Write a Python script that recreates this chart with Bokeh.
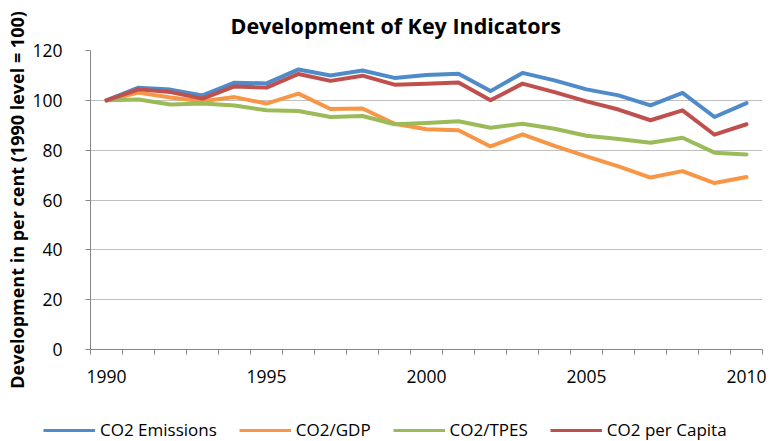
from bokeh.plotting import figure
from bokeh.models import Legend, LegendItem, FixedTicker, Range1d, Title
from bokeh.layouts import column, row
from bokeh.embed import file_html
from bokeh.resources import INLINE

years = list(range(1990, 2011))
co2_emissions = [100, 105.1, 104.3, 102.0, 107.1, 106.8, 112.4, 110.0, 112.0, 109.0, 110.2,
                 110.7, 103.7, 111.0, 108.0, 104.4, 102.0, 98.0, 103.0, 93.3, 98.9]
co2_gdp = [100, 103.1, 101.1, 99.6, 101.3, 98.7, 102.7, 96.5, 96.7, 90.6, 88.4,
           88.0, 81.5, 86.3, 81.7, 77.5, 73.5, 69.0, 71.6, 66.8, 69.2]
co2_tpes = [100, 100.3, 98.3, 98.7, 97.9, 96.0, 95.7, 93.3, 93.7, 90.4, 90.9,
            91.6, 89.0, 90.6, 88.6, 85.8, 84.5, 83.0, 85.0, 79.0, 78.3]
co2_capita = [100, 104.4, 103.3, 100.7, 105.6, 105.1, 110.6, 107.8, 109.9, 106.3, 106.7,
              107.2, 100.0, 106.7, 103.3, 99.6, 96.3, 92.0, 96.0, 86.2, 90.4]
series_names = ["CO2 Emissions", "CO2/GDP", "CO2/TPES", "CO2 per Capita"]
series_colors = ["#4F8BC9", "#F79646", "#9BBB59", "#C0504D"]
y_ticks = [0, 20, 40, 60, 80, 100, 120]
x_label_ticks = [1990, 1995, 2000, 2005, 2010]

FONT = "Open Sans"
W = 770
all_series = [co2_emissions, co2_gdp, co2_tpes, co2_capita]

p = figure(width=W, height=400, output_backend="svg", toolbar_location=None,
           x_range=Range1d(years[0] - 0.5, years[-1] + 0.5), y_range=Range1d(0, 120),
           min_border_left=90, min_border_right=W - 762, min_border_top=50, min_border_bottom=51)
p.outline_line_color = None
p.background_fill_color = "white"
p.border_fill_color = "white"

p.add_layout(Title(text="Development of Key Indicators", text_font=FONT, text_font_size="21.5px",
                   text_font_style="bold", text_color="#000000", align="left", offset=140,
                   vertical_align="top", standoff=17), "above")

for vals, col in zip(all_series, series_colors):
    p.line(years, vals, line_color=col, line_width=4, line_join="round", line_cap="round")

# y axis
p.yaxis.ticker = FixedTicker(ticks=y_ticks)
p.yaxis.axis_line_color = "#868686"
p.yaxis.major_tick_line_color = "#868686"
p.yaxis.major_tick_out = 5
p.yaxis.major_tick_in = 0
p.yaxis.minor_tick_line_color = None
p.yaxis.major_label_text_font = FONT
p.yaxis.major_label_text_font_size = "17.5px"
p.yaxis.major_label_text_color = "#000000"
p.yaxis.major_label_standoff = 23
p.yaxis.axis_label = "Development in per cent (1990 level = 100)"
p.yaxis.axis_label_text_font = FONT
p.yaxis.axis_label_text_font_size = "18px"
p.yaxis.axis_label_text_font_style = "bold"
p.yaxis.axis_label_text_color = "#000000"
p.yaxis.axis_label_standoff = 0

# x axis
p.xaxis.ticker = FixedTicker(ticks=x_label_ticks, minor_ticks=[y - 0.5 for y in years] + [years[-1] + 0.5])
p.xaxis.axis_line_color = "#868686"
p.xaxis.major_tick_line_color = None
p.xaxis.minor_tick_line_color = "#868686"
p.xaxis.minor_tick_out = 5
p.xaxis.minor_tick_in = 0
p.xaxis.major_label_text_font = FONT
p.xaxis.major_label_text_font_size = "17.5px"
p.xaxis.major_label_text_color = "#000000"
p.xaxis.major_label_standoff = 14

p.xgrid.grid_line_color = None
p.ygrid.ticker = FixedTicker(ticks=y_ticks)
p.ygrid.grid_line_color = "#BFBFBF"
p.ygrid.grid_line_width = 1

# legend strip below the chart (its lines lie outside its visible range; only the legend shows)
lg = figure(width=W, height=41, output_backend="svg", toolbar_location=None,
            x_range=Range1d(0, 1), y_range=Range1d(0, 1),
            min_border_left=0, min_border_right=0, min_border_top=0, min_border_bottom=0,
            x_axis_location=None, y_axis_location=None)
lg.outline_line_color = None
lg.grid.visible = False
lg.border_fill_color = "white"
items = []
for name, vals, col in zip(series_names, all_series, series_colors):
    r = lg.line(years, vals, line_color=col, line_width=3)
    items.append(LegendItem(label=name, renderers=[r]))
legend = Legend(items=items, orientation="horizontal", location=(43, 0), glyph_width=52,
                glyph_height=20, label_height=20, label_standoff=5, spacing=22, padding=0, margin=0,
                label_text_font=FONT, label_text_font_size="17px", label_text_color="#000000",
                border_line_color=None, background_fill_alpha=0)
lg.add_layout(legend, "center")

layout = column(p, row(lg, spacing=0), spacing=0)
open("out.html", "w").write(file_html(layout, INLINE))
